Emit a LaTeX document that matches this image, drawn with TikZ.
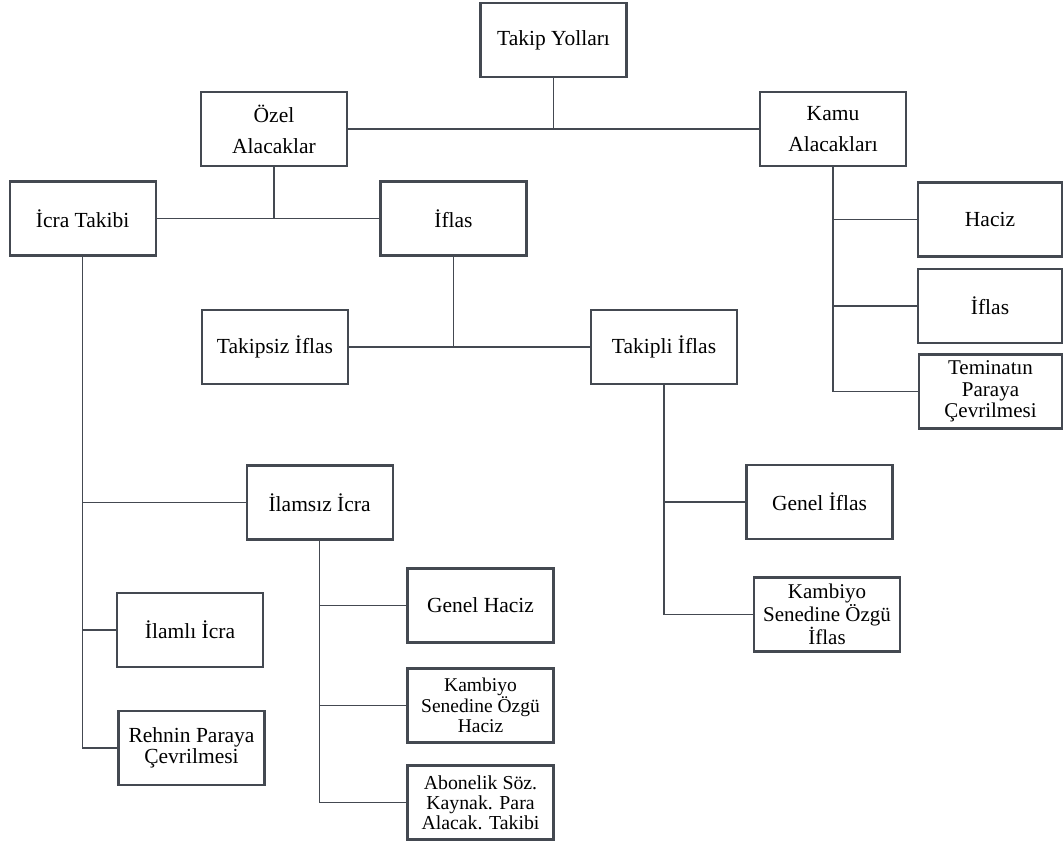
\documentclass[tikz,border=0pt]{standalone}
\usepackage{fontspec}
\setmainfont{Liberation Serif}
\definecolor{linegray}{RGB}{68,73,81}
\begin{document}
\begin{tikzpicture}[x=1pt, y=-1pt,
    box/.style={draw=linegray, line width=2.2pt, rectangle, minimum width=146pt, minimum height=74pt, align=center, inner sep=2pt, font=\fontsize{21.5}{31}\selectfont},
    tight/.style={font=\fontsize{21}{21.5}\selectfont},
    link/.style={draw=linegray, line width=1.5pt}]
    \useasboundingbox (0,0) rectangle (1064,843);

        % Define the root and the first level
        \node[box] (yollar) at (553.5,40) {Takip Yolları};
        \node[box] (ozel) at (274,129) {Özel\\Alacaklar};
        \node[box] (kamu) at (833,129) {Kamu\\Alacakları};

        % Define nodes under Özel Alacaklar
        \node[box] (icra) at (82.6,218.5) {İcra Takibi};
        \node[box] (iflas) at (453.5,218.5) {İflas};
        \node[box] (takipsiz) at (275,347) {Takipsiz İflas};
        \node[box] (takipli) at (664,347) {Takipli İflas};

        % Define nodes under Kamu Alacakları
        \node[box, minimum width=144pt] (khaciz) at (990,219.5) {Haciz};
        \node[box, minimum width=144pt] (kiflas) at (990,306) {İflas};
        \node[box, tight, minimum width=143pt] (teminat) at (990.5,391.5) {Teminatın\\Paraya\\Çevrilmesi};

        % Define nodes under İcra Takibi
        \node[box] (ilamsiz) at (319.6,502.5) {İlamsız İcra};
        \node[box] (ilamli) at (190,630) {İlamlı İcra};
        \node[box, font=\fontsize{21.5}{21}\selectfont] (rehin) at (191.5,748) {Rehnin Paraya\\Çevrilmesi};

        % Define nodes under İlamsız İcra
        \node[box] (ghaciz) at (480.5,605.5) {Genel Haciz};
        \node[box, font=\fontsize{19.5}{19.5}\selectfont] (khaciz2) at (480.5,705.5) {Kambiyo\\Senedine Özgü\\Haciz};
        \node[box, font=\fontsize{19.8}{19.8}\selectfont] (abone) at (480.5,802.5) {Abonelik Söz.\\Kaynak. Para\\Alacak. Takibi};

        % Define nodes under Takipli İflas
        \node[box] (giflas) at (819.5,502) {Genel İflas};
        \node[box, tight] (kbiflas) at (827,614.5) {Kambiyo\\Senedine Özgü\\İflas};

        % Draw the first level
        \draw[link] (ozel) -- (kamu);
        \draw[link] (yollar) -- (yollar |- ozel);

        % Draw the branches of Özel Alacaklar
        \draw[link] (icra) -- (iflas);
        \draw[link] (ozel) -- (ozel |- icra);
        \draw[link] (takipsiz) -- (takipli);
        \draw[link] (iflas) -- (iflas |- takipsiz);

        % Draw the branches of Kamu Alacakları
        \draw[link] (kamu.south) |- (khaciz);
        \draw[link] (kamu.south) |- (kiflas);
        \draw[link] (kamu.south) |- (teminat);

        % Draw the branches of İcra Takibi
        \draw[link] (icra.south) |- (ilamsiz);
        \draw[link] (icra.south) |- (ilamli);
        \draw[link] (icra.south) |- (rehin);

        % Draw the branches of İlamsız İcra
        \draw[link] (ilamsiz.south) |- (ghaciz);
        \draw[link] (ilamsiz.south) |- (khaciz2);
        \draw[link] (ilamsiz.south) |- (abone);

        % Draw the branches of Takipli İflas
        \draw[link] (takipli.south) |- (giflas);
        \draw[link] (takipli.south) |- (kbiflas);

    \end{tikzpicture}
\end{document}
